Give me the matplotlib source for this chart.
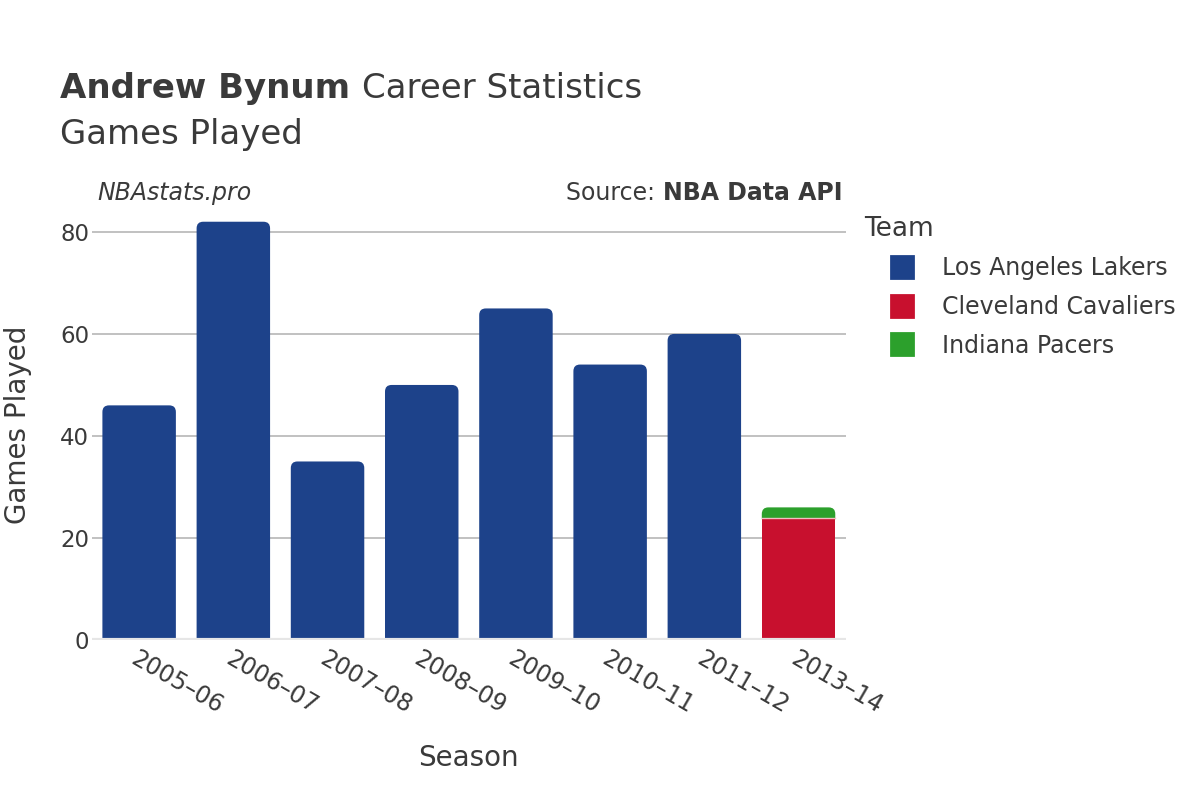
import matplotlib.pyplot as plt
from matplotlib.patches import FancyBboxPatch
from matplotlib.lines import Line2D

# Data
seasons = ['2005–06', '2006–07', '2007–08', '2008–09', '2009–10', '2010–11', '2011–12', '2013–14']
lakers = [46, 82, 35, 50, 65, 54, 60, 0]
cavaliers = [0, 0, 0, 0, 0, 0, 0, 24]
pacers = [0, 0, 0, 0, 0, 0, 0, 2]
teams = ['Los Angeles Lakers', 'Cleveland Cavaliers', 'Indiana Pacers']
colors = ['#1d428a', '#c8102e', '#2ca02c']
text_color = '#3a3a3a'

fig = plt.figure(figsize=(12, 8), dpi=100)
ax = fig.add_axes([0.0767, 0.2, 0.628, 0.5375])

ymax = 84.3
ax.set_xlim(-0.5, len(seasons) - 0.5)
ax.set_ylim(0, ymax)

# gridlines
for v in [20, 40, 60, 80]:
    ax.axhline(v, color='#b0b0b0', lw=1.1, zorder=0)
ax.axhline(0, color='#e6e6e6', lw=3, zorder=5)

width = 0.78
# pixels per unit, for rounding aspect
px_x = 0.628 * 1200 / len(seasons)
px_y = 0.5375 * 800 / ymax
aspect = px_x / px_y
r = 0.07  # rounding in x units
ry = r * aspect

series = [lakers, cavaliers, pacers]
for i in range(len(seasons)):
    bottom = 0
    segs = []
    for s, c in zip(series, colors):
        if s[i] > 0:
            segs.append((bottom, s[i], c))
            bottom += s[i]
    # top segment rounded, drawn first and extended down
    b, h, c = segs[-1]
    patch = FancyBboxPatch((i - width / 2, b - ry), width, h + ry,
                           boxstyle='round,pad=0,rounding_size=%f' % r,
                           mutation_aspect=aspect, facecolor=c, edgecolor='none', zorder=2)
    ax.add_patch(patch)
    for b, h, c in segs[:-1]:
        ax.bar(i, h, width=width, bottom=b, color=c, edgecolor='none', zorder=3)
        ax.plot([i - width / 2, i + width / 2], [b + h, b + h], color='#f0c0c0', lw=1, zorder=4)

for sp in ax.spines.values():
    sp.set_visible(False)
ax.set_yticks([0, 20, 40, 60, 80])
ax.tick_params(axis='y', length=0, labelsize=16.5, labelcolor=text_color, pad=2)
ax.set_xticks(range(len(seasons)))
ax.set_xticklabels(seasons, rotation=-30, ha='left', va='top', rotation_mode='anchor',
                   fontsize=17, color=text_color)
ax.tick_params(axis='x', length=0, pad=5)

ax.set_xlabel('Season', fontsize=20, color=text_color, labelpad=18)
ax.set_ylabel('Games Played', fontsize=20, color=text_color, labelpad=20)

renderer = fig.canvas.get_renderer()

# titles
t1 = fig.text(0.05, 0.878, 'Andrew Bynum ', fontsize=24.5, fontweight='bold', color=text_color,
              va='baseline')
w1 = t1.get_window_extent(renderer).width / 1200
fig.text(0.05 + w1, 0.878, 'Career Statistics', fontsize=24.5, color=text_color, va='baseline')
fig.text(0.05, 0.82, 'Games Played', fontsize=24.5, color=text_color, va='baseline')

fig.text(0.081, 0.75, 'NBAstats.pro', fontsize=17, style='italic', color=text_color, va='baseline')
t2 = fig.text(0.702, 0.75, 'NBA Data API', fontsize=17, fontweight='bold', color=text_color,
              va='baseline', ha='right')
w2 = t2.get_window_extent(renderer).width / 1200
fig.text(0.702 - w2, 0.75, 'Source: ', fontsize=17, color=text_color, va='baseline', ha='right')

handles = [Line2D([], [], marker='s', linestyle='none', markersize=16, markerfacecolor=c,
                  markeredgecolor=c, markeredgewidth=2, solid_joinstyle='round') for c in colors]
leg = fig.legend(handles, teams, loc='upper left', bbox_to_anchor=(0.712, 0.742), frameon=False,
                 title='Team', fontsize=17, title_fontsize=19, labelcolor=text_color,
                 handlelength=3.2, handletextpad=0.1, labelspacing=0.62, borderaxespad=0)
leg.get_title().set_color(text_color)
leg._legend_box.align = 'left'

fig.savefig('out.png', dpi=100, facecolor='white')
